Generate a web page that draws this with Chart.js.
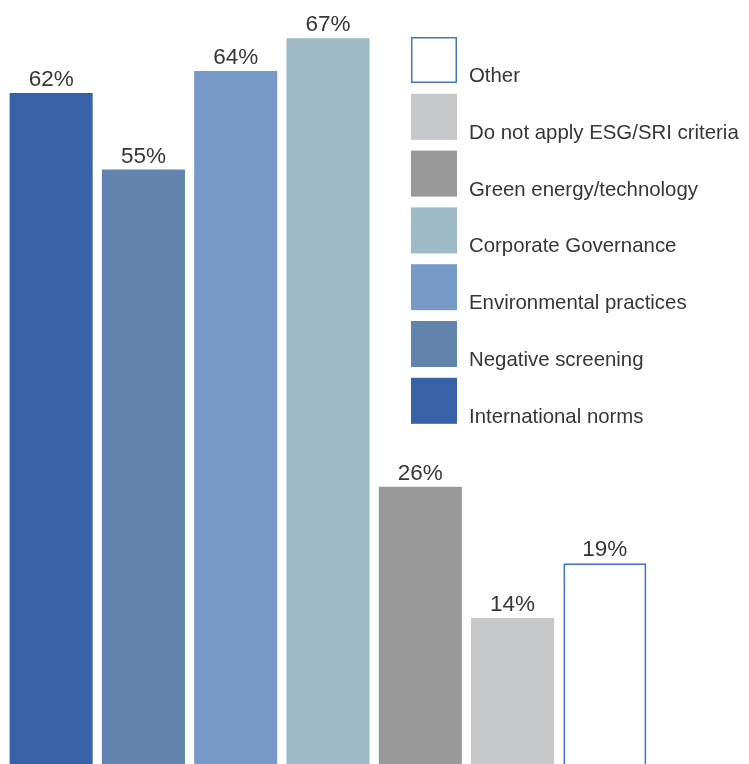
<!DOCTYPE html>
<html>
<head>
<meta charset="utf-8">
<script src="https://cdn.jsdelivr.net/npm/chart.js@4/dist/chart.umd.min.js"></script>
<style>
  html, body { margin: 0; padding: 0; background: #ffffff; }
  #wrap { position: relative; width: 749px; height: 764px; }
</style>
</head>
<body>
<div id="wrap"><canvas id="c"></canvas></div>
<script>
const categories = [
  "International norms",
  "Negative screening",
  "Environmental practices",
  "Corporate Governance",
  "Green energy/technology",
  "Do not apply ESG/SRI criteria",
  "Other"
];
const values = [62, 55, 64, 67, 26, 14, 19];
const fillColors = ["#3762a8", "#6283ad", "#7699c8", "#9dbac6", "#999999", "#c7c8ca", "#ffffff"];
const borderColors = ["#3762a8", "#6283ad", "#7699c8", "#9dbac6", "#999999", "#c7c8ca", "#4a74b9"];
const borderWidths = [0, 0, 0, 0, 0, 0, 2];

const FONT = '"Liberation Sans", Arial, Helvetica, sans-serif';
const TEXT_COLOR = '#363636';

const valueLabels = {
  id: 'valueLabels',
  afterDatasetsDraw(chart) {
    const ctx = chart.ctx;
    const meta = chart.getDatasetMeta(0);
    ctx.save();
    ctx.font = '22.5px ' + FONT;
    ctx.fillStyle = TEXT_COLOR;
    ctx.textAlign = 'center';
    ctx.textBaseline = 'alphabetic';
    meta.data.forEach((bar, i) => {
      ctx.fillText(values[i] + '%', bar.x, bar.y - 7);
    });
    ctx.restore();
  }
};

const sideLegend = {
  id: 'sideLegend',
  afterDraw(chart) {
    const ctx = chart.ctx;
    const boxX = 411, boxSize = 46, top = 37, step = 56.8, textX = 469;
    ctx.save();
    ctx.font = '20.4px ' + FONT;
    ctx.textAlign = 'left';
    ctx.textBaseline = 'alphabetic';
    const order = categories.map((c, i) => i).reverse();
    order.forEach((idx, row) => {
      const y = top + row * step;
      ctx.fillStyle = fillColors[idx];
      ctx.fillRect(boxX, y, boxSize, boxSize);
      if (borderWidths[idx] > 0) {
        ctx.strokeStyle = borderColors[idx];
        ctx.lineWidth = 1.5;
        ctx.strokeRect(boxX + 0.75, y + 0.75, boxSize - 1.5, boxSize - 1.5);
      }
      ctx.fillStyle = TEXT_COLOR;
      ctx.fillText(categories[idx], textX, y + boxSize - 1);
    });
    ctx.restore();
  }
};

new Chart(document.getElementById('c'), {
  type: 'bar',
  data: {
    labels: categories,
    datasets: [{
      data: values,
      backgroundColor: fillColors,
      borderColor: borderColors,
      borderWidth: borderWidths,
      barPercentage: 0.9,
      categoryPercentage: 1.0
    }]
  },
  options: {
    responsive: true,
    maintainAspectRatio: false,
    animation: false,
    layout: { padding: { left: 5, right: 98, top: 0, bottom: 0 } },
    plugins: { legend: { display: false }, tooltip: { enabled: false } },
    scales: {
      x: { display: false },
      y: { display: false, min: 0.64, max: 70.5 }
    }
  },
  plugins: [valueLabels, sideLegend]
});
</script>
</body>
</html>
